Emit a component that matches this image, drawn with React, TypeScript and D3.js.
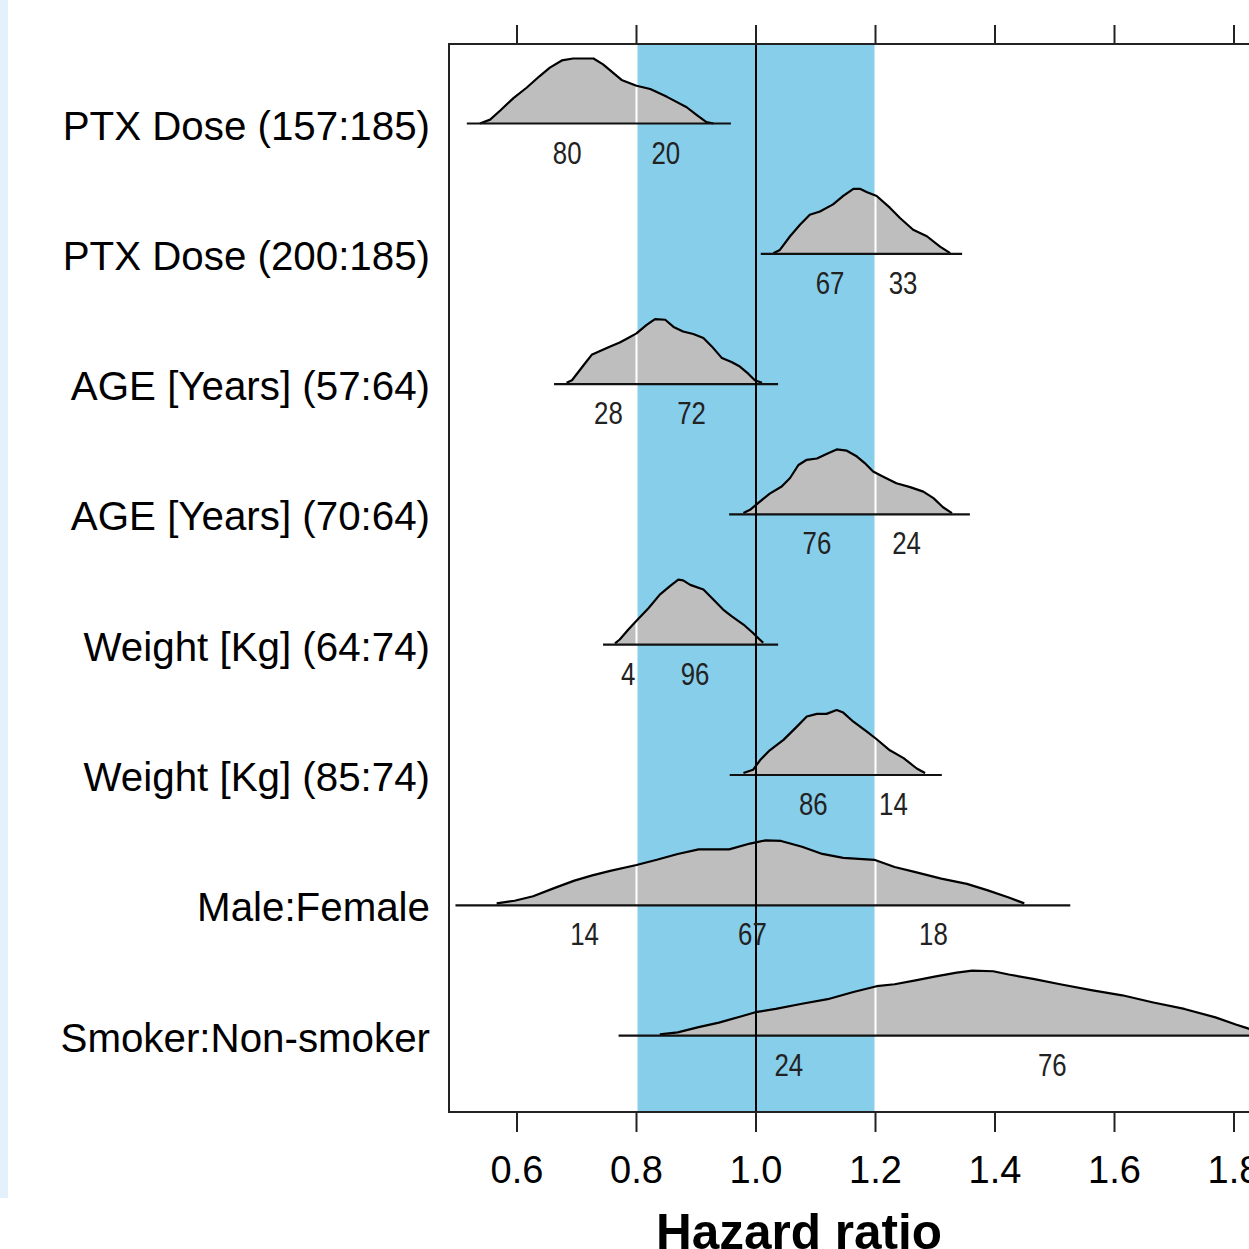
import * as d3 from 'd3';

// row labels, top to bottom
const rowLabels = [
  'PTX Dose (157:185)',
  'PTX Dose (200:185)',
  'AGE [Years] (57:64)',
  'AGE [Years] (70:64)',
  'Weight [Kg] (64:74)',
  'Weight [Kg] (85:74)',
  'Male:Female',
  'Smoker:Non-smoker',
];

// range of the horizontal segment under each density (hazard ratio)
const rangeLow = [0.516, 1.008, 0.662, 0.955, 0.744, 0.956, 0.497, 0.77];
const rangeHigh = [0.958, 1.345, 1.037, 1.358, 1.037, 1.311, 1.526, 2.0];

// percentage of mass below 0.8 / inside 0.8-1.2 / above 1.2, and where the number sits
const pctValues = [[80, 20], [67, 33], [28, 72], [76, 24], [4, 96], [86, 14], [14, 67, 18], [24, 76]];
const pctAt = [
  [0.684, 0.849],
  [1.124, 1.246],
  [0.753, 0.892],
  [1.102, 1.252],
  [0.786, 0.898],
  [1.096, 1.23],
  [0.713, 0.994, 1.297],
  [1.055, 1.496],
];

// posterior densities: [hazard ratio, relative height]
const densPtx157: [number, number][] = [
  [0.538, 0], [0.555, 0.06], [0.572, 0.2], [0.594, 0.39], [0.616, 0.55], [0.638, 0.73], [0.655, 0.86],
  [0.675, 0.97], [0.694, 1.0], [0.728, 1.0], [0.744, 0.91], [0.761, 0.78], [0.775, 0.67], [0.8, 0.58],
  [0.823, 0.53], [0.851, 0.41], [0.884, 0.25], [0.901, 0.13], [0.917, 0.02], [0.929, 0],
];
const densPtx200: [number, number][] = [
  [1.029, 0.01], [1.04, 0.06], [1.057, 0.27], [1.074, 0.45], [1.09, 0.6], [1.107, 0.65], [1.129, 0.76],
  [1.146, 0.89], [1.163, 1.0], [1.174, 1.0], [1.185, 0.95], [1.202, 0.89], [1.224, 0.71], [1.241, 0.55],
  [1.263, 0.37], [1.286, 0.27], [1.308, 0.11], [1.325, 0.01],
];
const densAge57: [number, number][] = [
  [0.683, 0.02], [0.692, 0.06], [0.703, 0.19], [0.714, 0.32], [0.725, 0.45], [0.739, 0.51], [0.756, 0.58],
  [0.772, 0.64], [0.786, 0.71], [0.8, 0.78], [0.817, 0.91], [0.831, 1.0], [0.848, 0.99], [0.862, 0.88],
  [0.878, 0.81], [0.895, 0.77], [0.912, 0.71], [0.926, 0.58], [0.943, 0.4], [0.959, 0.34], [0.973, 0.27],
  [0.987, 0.16], [0.998, 0.06], [1.01, 0.02],
];
const densAge70: [number, number][] = [
  [0.979, 0.02], [0.99, 0.07], [1.007, 0.2], [1.023, 0.32], [1.043, 0.43], [1.057, 0.56], [1.071, 0.76],
  [1.085, 0.84], [1.102, 0.86], [1.118, 0.93], [1.135, 1.0], [1.152, 0.98], [1.169, 0.89], [1.182, 0.79],
  [1.196, 0.66], [1.213, 0.58], [1.235, 0.48], [1.258, 0.42], [1.28, 0.35], [1.297, 0.25], [1.313, 0.11],
  [1.328, 0.02],
];
const densWeight64: [number, number][] = [
  [0.764, 0.02], [0.772, 0.08], [0.786, 0.23], [0.8, 0.37], [0.82, 0.56], [0.839, 0.77], [0.856, 0.9],
  [0.87, 1.0], [0.878, 0.99], [0.89, 0.92], [0.912, 0.85], [0.929, 0.69], [0.945, 0.54], [0.959, 0.44],
  [0.979, 0.31], [0.995, 0.18], [1.004, 0.1], [1.012, 0.03],
];
const densWeight85: [number, number][] = [
  [0.979, 0.03], [0.995, 0.08], [1.007, 0.23], [1.023, 0.38], [1.046, 0.54], [1.068, 0.74], [1.085, 0.9],
  [1.102, 0.94], [1.118, 0.94], [1.135, 1.0], [1.146, 0.96], [1.163, 0.82], [1.185, 0.67], [1.202, 0.55],
  [1.224, 0.38], [1.247, 0.26], [1.269, 0.1], [1.283, 0.03],
];
const densSex: [number, number][] = [
  [0.566, 0.03], [0.596, 0.07], [0.627, 0.14], [0.661, 0.26], [0.696, 0.38], [0.726, 0.46], [0.756, 0.53],
  [0.8, 0.62], [0.834, 0.7], [0.869, 0.79], [0.904, 0.86], [0.955, 0.86], [0.99, 0.95], [1.016, 1.0],
  [1.042, 0.99], [1.077, 0.9], [1.111, 0.79], [1.146, 0.73], [1.198, 0.7], [1.232, 0.59], [1.267, 0.51],
  [1.31, 0.41], [1.353, 0.33], [1.388, 0.23], [1.423, 0.12], [1.449, 0.03],
];
const densSmoker: [number, number][] = [
  [0.839, 0.02], [0.869, 0.05], [0.904, 0.13], [0.938, 0.2], [0.973, 0.29], [0.999, 0.36], [1.033, 0.41],
  [1.077, 0.49], [1.12, 0.56], [1.163, 0.67], [1.202, 0.76], [1.232, 0.79], [1.267, 0.85], [1.301, 0.91],
  [1.336, 0.97], [1.362, 1.0], [1.397, 0.99], [1.423, 0.94], [1.466, 0.87], [1.509, 0.79], [1.561, 0.7],
  [1.613, 0.62], [1.665, 0.51], [1.717, 0.41], [1.769, 0.28], [1.803, 0.17], [1.827, 0.1], [1.87, 0.04],
  [1.92, 0.01],
];
const densities = [densPtx157, densPtx200, densAge57, densAge70, densWeight64, densWeight85, densSex, densSmoker];

const xTicks = [0.6, 0.8, 1.0, 1.2, 1.4, 1.6, 1.8, 2.0];
const bandLow = 0.8;
const bandHigh = 1.2;
const nullValue = 1.0;

const W = 1249;
const H = 1249;
const plot = { left: 449, top: 44, bottom: 1112, right: 1400 };
const sans = '"Liberation Sans", Arial, Helvetica, sans-serif';

export default function App() {
  const x = d3.scaleLinear().domain([0.6, 1.8]).range([517, 1234]);
  const y = d3.scalePoint<number>().domain(d3.range(rowLabels.length)).range([123.5, 1035.6]);
  const peak = 65;

  return (
    <svg
      width={W}
      height={H}
      style={{ position: 'absolute', left: 0, top: 0, display: 'block', background: '#fff' }}
    >
      <rect x={0} y={0} width={8} height={1198} fill="#e4f0fc" />

      <rect
        x={x(bandLow)}
        y={plot.top}
        width={x(bandHigh) - x(bandLow)}
        height={plot.bottom - plot.top}
        fill="#87ceeb"
      />

      {densities.map((d, i) => {
        const y0 = y(i) ?? 0;
        const area = d3
          .area<[number, number]>()
          .x((p) => x(p[0]))
          .y0(y0)
          .y1((p) => y0 - p[1] * peak);
        return <path key={'f' + i} d={area(d) ?? ''} fill="#bebebe" stroke="none" />;
      })}

      {[bandLow, bandHigh].map((v) => (
        <line key={v} x1={x(v)} x2={x(v)} y1={plot.top} y2={plot.bottom} stroke="#fff" strokeWidth={2} />
      ))}

      {densities.map((d, i) => {
        const y0 = y(i) ?? 0;
        const line = d3
          .line<[number, number]>()
          .x((p) => x(p[0]))
          .y((p) => y0 - p[1] * peak);
        return <path key={'o' + i} d={line(d) ?? ''} fill="none" stroke="#000" strokeWidth={2.2} strokeLinejoin="round" />;
      })}

      {rowLabels.map((_, i) => (
        <line
          key={'b' + i}
          x1={x(rangeLow[i])}
          x2={x(rangeHigh[i])}
          y1={y(i)}
          y2={y(i)}
          stroke="#111"
          strokeWidth={2.2}
        />
      ))}

      <line x1={x(nullValue)} x2={x(nullValue)} y1={plot.top} y2={plot.bottom} stroke="#000" strokeWidth={2} />

      {pctValues.map((vals, i) =>
        vals.map((v, j) => (
          <text
            key={'p' + i + '-' + j}
            transform={`translate(${x(pctAt[i][j])},${(y(i) ?? 0) + 40}) scale(0.86,1.05)`}
            textAnchor="middle"
            fontFamily={sans}
            fontSize={30}
            fill="#222"
          >
            {v}
          </text>
        ))
      )}

      {rowLabels.map((label, i) => (
        <text
          key={'l' + i}
          x={430}
          y={(y(i) ?? 0) + 16}
          textAnchor="end"
          fontFamily={sans}
          fontSize={40.3}
          fill="#000"
        >
          {label}
        </text>
      ))}

      <rect
        x={plot.left}
        y={plot.top}
        width={plot.right - plot.left}
        height={plot.bottom - plot.top}
        fill="none"
        stroke="#222"
        strokeWidth={2}
      />

      {xTicks.map((t) => (
        <g key={'t' + t}>
          <line x1={x(t)} x2={x(t)} y1={plot.top} y2={plot.top - 19} stroke="#222" strokeWidth={2} />
          <line x1={x(t)} x2={x(t)} y1={plot.bottom} y2={plot.bottom + 20} stroke="#222" strokeWidth={2} />
          <text x={x(t)} y={1183} textAnchor="middle" fontFamily={sans} fontSize={38} fill="#000">
            {d3.format('.1f')(t)}
          </text>
        </g>
      ))}

      <text x={799} y={1249} textAnchor="middle" fontFamily={sans} fontSize={49.5} fontWeight="bold" fill="#000">
        Hazard ratio
      </text>
    </svg>
  );
}
